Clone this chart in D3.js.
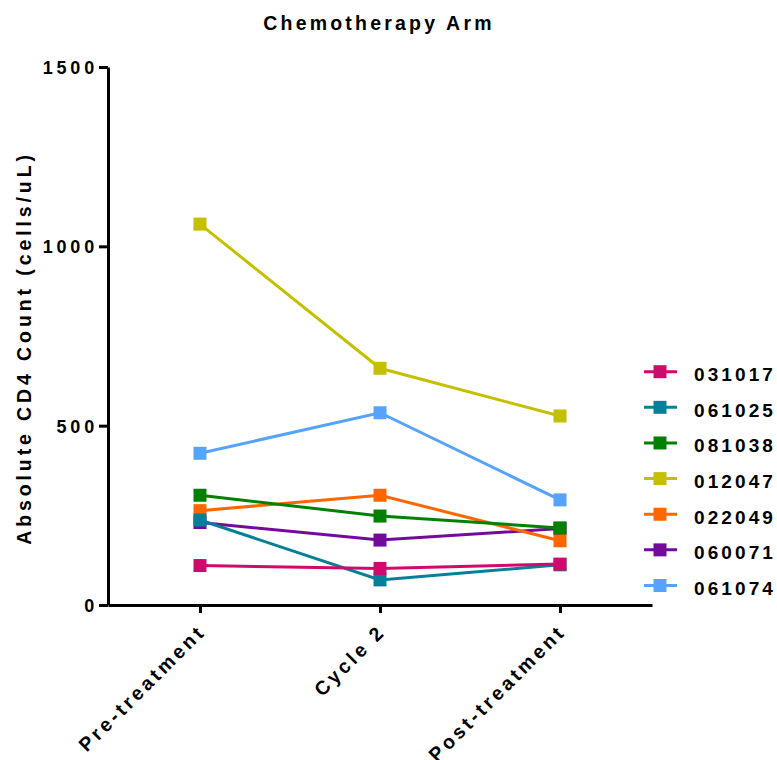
<!DOCTYPE html>
<html>
<head>
<meta charset="utf-8">
<script src="https://cdn.jsdelivr.net/npm/d3@7"></script>
<style>
  body { margin: 0; background: #fff; }
  svg { display: block; }
  text { font-family: "Liberation Sans", Arial, sans-serif; font-weight: bold; fill: #000; }
</style>
</head>
<body>
<svg id="chart"></svg>
<script>
// Chemotherapy arm: CD4 counts per patient at three time points

const timepoints = ["Pre-treatment", "Cycle 2", "Post-treatment"];
const patients = ["031017", "061025", "081038", "012047", "022049", "060071", "061074"];
const colors = ["#D00A6C", "#077F99", "#018001", "#C4C000", "#FF6600", "#740A9C", "#56A3FF"];

// one row per patient, values in cells/uL
const cd4_031017 = [110, 102, 114];
const cd4_061025 = [237, 70, 112];
const cd4_081038 = [306, 248, 215];
const cd4_012047 = [1062, 660, 527];
const cd4_022049 = [263, 306, 179];
const cd4_060071 = [230, 181, 213];
const cd4_061074 = [423, 536, 293];
const counts = [cd4_031017, cd4_061025, cd4_081038, cd4_012047, cd4_022049, cd4_060071, cd4_061074];

const yTicks = [0, 500, 1000, 1500];

const width = 777, height = 760;
const plotLeft = 108, plotRight = 652, plotTop = 67, plotBottom = 605;
const markerSize = 13;

const svg = d3.select("#chart").attr("width", width).attr("height", height);

const x = d3.scalePoint().domain(timepoints).range([plotLeft, plotRight]).padding(0.511);
const y = d3.scaleLinear().domain([0, 1500]).range([plotBottom, plotTop]);

// title
svg.append("text")
    .attr("x", 379)
    .attr("y", 30)
    .attr("text-anchor", "middle")
    .style("font-size", "19.5px")
    .style("letter-spacing", "3.2px")
    .text("Chemotherapy Arm");

// y axis
const yAxis = svg.append("g")
    .attr("transform", `translate(${plotLeft},0)`)
    .call(d3.axisLeft(y).tickValues(yTicks).tickSize(9).tickSizeOuter(0).tickPadding(1).tickFormat(d3.format("d")));

// x axis
const xAxis = svg.append("g")
    .attr("transform", `translate(0,${plotBottom})`)
    .call(d3.axisBottom(x).tickSize(8).tickSizeOuter(0).tickFormat(""));

[yAxis, xAxis].forEach(g => {
    g.select(".domain").attr("stroke", "#000").attr("stroke-width", 3);
    g.selectAll(".tick line").attr("stroke", "#000").attr("stroke-width", 3);
});

yAxis.selectAll(".tick text")
    .style("font-size", "18px")
    .style("letter-spacing", "3.8px")
    .attr("dy", "0.36em");

// rotated time point labels
svg.append("g").selectAll("text")
    .data(timepoints)
    .join("text")
    .attr("transform", d => `translate(${x(d) + 2},${plotBottom + 23}) rotate(-45)`)
    .attr("text-anchor", "end")
    .attr("dy", "0.35em")
    .style("font-size", "19.5px")
    .style("letter-spacing", "3.3px")
    .text(d => d);

// y axis title
svg.append("text")
    .attr("transform", `translate(31,348) rotate(-90)`)
    .attr("text-anchor", "middle")
    .style("font-size", "19.5px")
    .style("letter-spacing", "3.9px")
    .text("Absolute CD4 Count (cells/uL)");

// series, drawn last-to-first so the first patient sits on top
const line = d3.line()
    .x((d, i) => x(timepoints[i]))
    .y(d => y(d));

const series = svg.append("g").selectAll("g")
    .data(patients.map((p, i) => ({ id: p, values: counts[i], color: colors[i] })).reverse())
    .join("g");

series.append("path")
    .attr("d", d => line(d.values))
    .attr("fill", "none")
    .attr("stroke", d => d.color)
    .attr("stroke-width", 3);

series.selectAll("rect")
    .data(d => d.values.map((v, i) => ({ v, t: timepoints[i], color: d.color })))
    .join("rect")
    .attr("x", d => x(d.t) - markerSize / 2)
    .attr("y", d => y(d.v) - markerSize / 2)
    .attr("width", markerSize)
    .attr("height", markerSize)
    .attr("fill", d => d.color);

// legend
const legendY = d3.scalePoint().domain(patients).range([371.7, 585.5]);

const legend = svg.append("g").selectAll("g")
    .data(patients)
    .join("g")
    .attr("transform", d => `translate(0,${legendY(d)})`);

legend.append("line")
    .attr("x1", 644).attr("x2", 677)
    .attr("stroke", (d, i) => colors[i])
    .attr("stroke-width", 3);

legend.append("rect")
    .attr("x", 660 - markerSize / 2)
    .attr("y", -markerSize / 2)
    .attr("width", markerSize)
    .attr("height", markerSize)
    .attr("fill", (d, i) => colors[i]);

legend.append("text")
    .attr("x", 694)
    .attr("y", 9.5)
    .style("font-size", "19px")
    .style("letter-spacing", "3.1px")
    .text(d => d);
</script>
</body>
</html>
